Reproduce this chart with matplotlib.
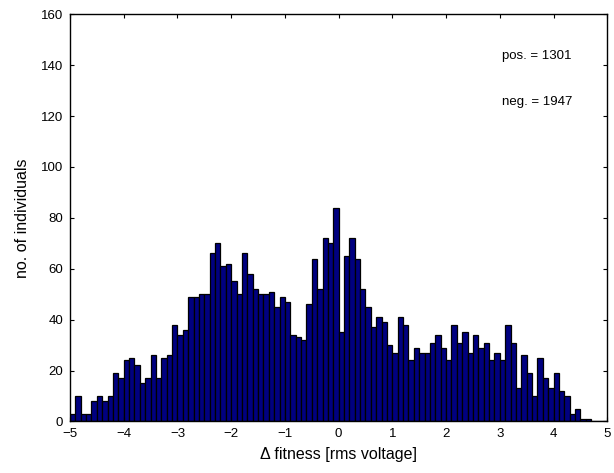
import numpy as np
import matplotlib
matplotlib.use("Agg")
from matplotlib import pyplot as plt

# histogram counts, bins of width 0.1 from -5 to 5
neg_counts = [3, 10, 3, 3, 8, 10, 8, 10, 19, 17,
              24, 25, 22, 15, 17, 26, 17, 25, 26, 38,
              34, 36, 49, 49, 50, 50, 66, 70, 61, 62,
              55, 50, 66, 58, 52, 50, 50, 51, 45, 49,
              47, 34, 33, 32, 46, 64, 52, 72, 70, 84]
pos_counts = [35, 65, 72, 64, 52, 45, 37, 41, 39, 30,
              27, 41, 38, 24, 29, 27, 27, 31, 34, 29,
              24, 38, 31, 35, 27, 34, 29, 31, 24, 27,
              24, 38, 31, 13, 26, 19, 10, 25, 17, 13,
              19, 12, 10, 3, 5, 1, 1, 0, 0, 0]
x_range = (-5, 5)
bin_width = 0.1
x_ticks = list(range(-5, 6))
y_ticks = list(range(0, 161, 20))
n_pos = 1301
n_neg = 1947

plt.rcParams.update({'font.size': 9.5, 'font.family': ['Liberation Sans', 'DejaVu Sans']})

counts = np.array(neg_counts + pos_counts)
edges = np.arange(len(counts) + 1) * bin_width + x_range[0]
centers = 0.5 * (edges[:-1] + edges[1:])

fig = plt.figure(figsize=(6.14, 4.73), dpi=100)
ax = fig.add_axes([0.114, 0.109, 0.875, 0.861])
ax.bar(centers, counts, width=bin_width, color="#000080", edgecolor="k", linewidth=0.9)

ax.set_xlim(*x_range)
ax.set_ylim(y_ticks[0], y_ticks[-1])
ax.set_xticks(x_ticks)
ax.set_yticks(y_ticks)
ax.tick_params(direction="in", length=3, top=True, right=True, pad=5)
for s in ax.spines.values():
    s.set_linewidth(1.0)

ax.text(0.805, 0.89, "pos. = %d" % n_pos, transform=ax.transAxes, fontsize=9.5)
ax.text(0.805, 0.777, "neg. = %d" % n_neg, transform=ax.transAxes, fontsize=9.5)

ax.set_xlabel("Δ fitness [rms voltage]", fontsize=11.5, labelpad=5)
ax.set_ylabel("no. of individuals", fontsize=11.5, labelpad=8)

fig.savefig("out.png", dpi=100)
